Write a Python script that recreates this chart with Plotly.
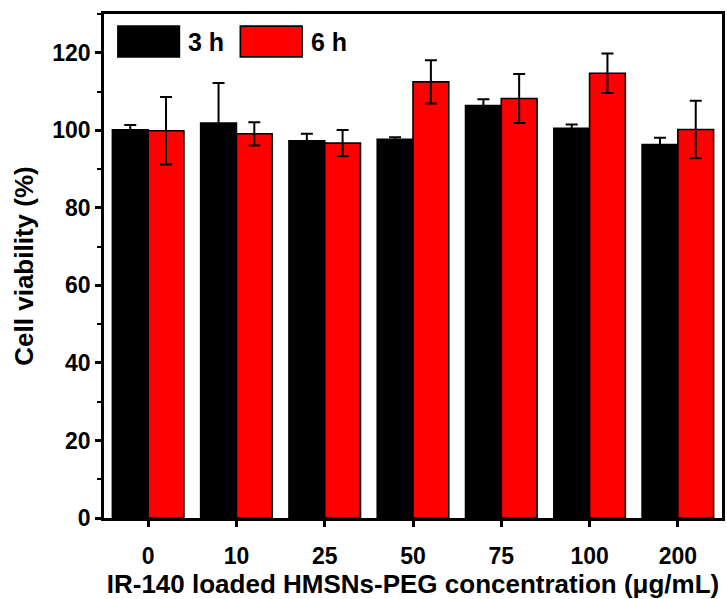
import plotly.graph_objects as go

categories = ["0", "10", "25", "50", "75", "100", "200"]
h3_values = [100.1, 101.9, 97.3, 97.7, 106.4, 100.5, 96.3]
h3_errors = [1.3, 10.3, 1.8, 0.5, 1.6, 1.0, 1.8]
h6_values = [99.9, 99.1, 96.7, 112.5, 108.2, 114.7, 100.2]
h6_errors = [8.7, 3.0, 3.4, 5.6, 6.3, 5.1, 7.4]
series_names = ["3 h", "6 h"]
series_colors = ["#000000", "#ff0000"]

FONT = "Liberation Sans, Arial, sans-serif"

fig = go.Figure()
for name, vals, errs, col in [(series_names[0], h3_values, h3_errors, series_colors[0]),
                              (series_names[1], h6_values, h6_errors, series_colors[1])]:
    fig.add_trace(go.Bar(
        x=categories, y=vals, name=name,
        marker=dict(color=col, line=dict(color="black", width=1.6)),
        error_y=dict(type="data", array=errs, visible=True, color="black",
                     thickness=2, width=6),
        showlegend=False,
    ))

fig.update_layout(
    barmode="group", bargap=0.19, bargroupgap=0,
    width=727, height=599,
    margin=dict(l=104, r=2, t=14, b=81),
    plot_bgcolor="white", paper_bgcolor="white",
    font=dict(family=FONT, size=18, color="black", weight="bold"),
)
fig.update_xaxes(
    type="category", showline=True, linecolor="black", linewidth=2.5, mirror=True,
    ticks="outside", ticklen=6, tickwidth=2.5, tickcolor="black",
    ticklabelstandoff=10,
    tickfont=dict(family=FONT, size=23, color="black", weight="bold"),
    title=dict(text="IR-140 loaded HMSNs-PEG concentration (μg/mL)",
               font=dict(family=FONT, size=26, color="black", weight="bold"), standoff=7),
    showgrid=False,
)
fig.update_yaxes(
    range=[0, 130], showline=True, linecolor="black", linewidth=2.5, mirror=True,
    dtick=20, tick0=0, ticks="outside", ticklen=6, tickwidth=2.5, tickcolor="black",
    minor=dict(dtick=10, ticks="outside", ticklen=4, tickwidth=2, tickcolor="black"),
    tickfont=dict(family=FONT, size=23, color="black", weight="bold"),
    title=dict(text="Cell viability (%)",
               font=dict(family=FONT, size=26, color="black", weight="bold"), standoff=12),
    showgrid=False, zeroline=False,
)

# legend drawn manually with large swatches
legend_pos = [(0.0225, 0.122, 0.132), (0.2206, 0.3205, 0.332)]
for (x0, x1, xt), name, col in zip(legend_pos, series_names, series_colors):
    fig.add_shape(type="rect", xref="paper", yref="paper", x0=x0, x1=x1,
                  y0=0.915, y1=0.976, fillcolor=col, line=dict(color="black", width=1.6))
    fig.add_annotation(xref="paper", yref="paper", x=xt, y=0.945, text=name,
                       showarrow=False, xanchor="left", yanchor="middle",
                       font=dict(family=FONT, size=25, color="black", weight="bold"))

fig.write_html("out.html")
